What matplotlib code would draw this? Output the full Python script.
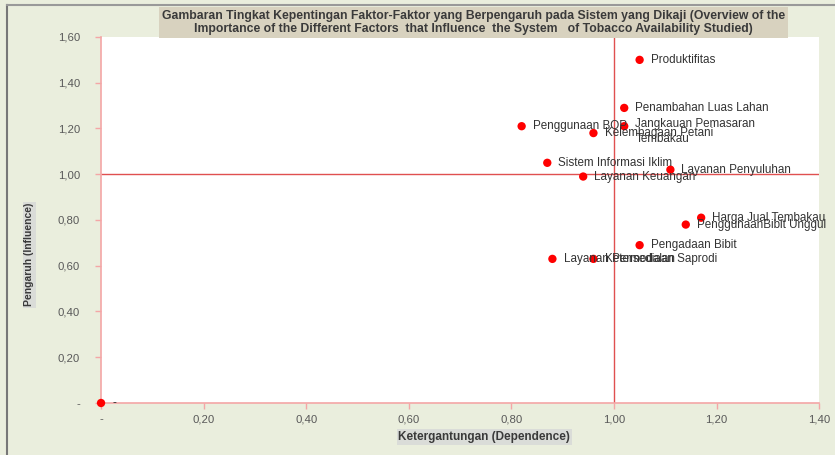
import matplotlib.pyplot as plt
from matplotlib.ticker import FuncFormatter, MultipleLocator
from matplotlib.lines import Line2D

plt.rcParams['font.family'] = ['Liberation Sans', 'DejaVu Sans']

# Data faktor: ketergantungan (x) dan pengaruh (y)
faktor = ['Produktifitas', 'Penambahan Luas Lahan', 'Penggunaan BOP', 'Kelembagaan Petani',
          'Jangkauan Pemasaran\nTembakau', 'Sistem Informasi Iklim', 'Layanan Penyuluhan',
          'Layanan Keuangan', 'Harga Jual Tembakau', 'PenggunaanBibit Unggul', 'Pengadaan Bibit',
          'Layanan Permodalan', 'Ketersediaan Saprodi', '-']
dependence = [1.05, 1.02, 0.82, 0.96, 1.02, 0.87, 1.11, 0.94, 1.17, 1.14, 1.05, 0.88, 0.96, 0.00]
influence = [1.50, 1.29, 1.21, 1.18, 1.21, 1.05, 1.02, 0.99, 0.81, 0.78, 0.69, 0.63, 0.63, 0.00]

title = ("Gambaran Tingkat Kepentingan Faktor-Faktor yang Berpengaruh pada Sistem yang Dikaji (Overview of the\n"
         "Importance of the Different Factors  that Influence  the System   of Tobacco Availability Studied)")

bg = '#EAEEDD'
fig = plt.figure(figsize=(8.35, 4.55), dpi=100, facecolor=bg)
ax = fig.add_axes([0.121, 0.1143, 0.860, 0.8044])
ax.set_facecolor('white')

# garis batas rata-rata
ax.axhline(1.0, color='#E05050', lw=1.0, zorder=1)
ax.axvline(1.0, color='#E05050', lw=1.0, zorder=1)

ax.scatter(dependence, influence, s=36, color='#FF0000', zorder=3, edgecolors='none')

for nama, x, y in zip(faktor, dependence, influence):
    if '\n' in nama:
        ax.annotate(nama, (x, y), xytext=(8, 6), textcoords='offset points',
                    va='top', ha='left', fontsize=8.4, color='#333333', linespacing=1.35)
    else:
        ax.annotate(nama, (x, y), xytext=(8, 0), textcoords='offset points',
                    va='center', ha='left', fontsize=8.4, color='#333333')

ax.set_xlim(0, 1.4)
ax.set_ylim(0, 1.6)
ax.xaxis.set_major_locator(MultipleLocator(0.2))
ax.yaxis.set_major_locator(MultipleLocator(0.2))

fmt = FuncFormatter(lambda v, p: '-' if abs(v) < 1e-9 else f'{v:.2f}'.replace('.', ','))
ax.xaxis.set_major_formatter(fmt)
ax.yaxis.set_major_formatter(fmt)

for s in ['top', 'right']:
    ax.spines[s].set_visible(False)
for s in ['left', 'bottom']:
    ax.spines[s].set_color('#F4A6A6')
    ax.spines[s].set_linewidth(1.2)
ax.tick_params(axis='both', colors='#F4A6A6', length=4, width=1, direction='out', labelsize=8.2)
ax.tick_params(axis='x', pad=4)
ax.tick_params(axis='y', pad=11)
for lbl in ax.get_xticklabels() + ax.get_yticklabels():
    lbl.set_color('#595959')

for c in ax.collections:
    c.set_clip_on(False)

fig.text(0.567, 0.950, title, ha='center', va='center', fontsize=8.8, fontweight='bold',
         color='#3a3a3a', linespacing=1.15,
         bbox=dict(boxstyle='square,pad=0.25', facecolor='#D8D2BF', edgecolor='none'))
fig.text(0.58, 0.04, 'Ketergantungan (Dependence)', ha='center', va='center', fontsize=8.5,
         fontweight='bold', color='#3a3a3a',
         bbox=dict(boxstyle='square,pad=0.15', facecolor='#DADCD8', edgecolor='none'))
fig.text(0.035, 0.44, 'Pengaruh (Influence)', ha='center', va='center', rotation=90, fontsize=7.5,
         fontweight='bold', color='#3a3a3a',
         bbox=dict(boxstyle='square,pad=0.15', facecolor='#DADCD8', edgecolor='none'))

# bingkai luar
fig.add_artist(Line2D([0.008, 0.008], [0.0, 0.99], color='#777777', lw=1.5))
fig.add_artist(Line2D([0.008, 1.0], [0.99, 0.99], color='#999999', lw=1.5))

plt.savefig('out.png', dpi=100, facecolor=bg)
